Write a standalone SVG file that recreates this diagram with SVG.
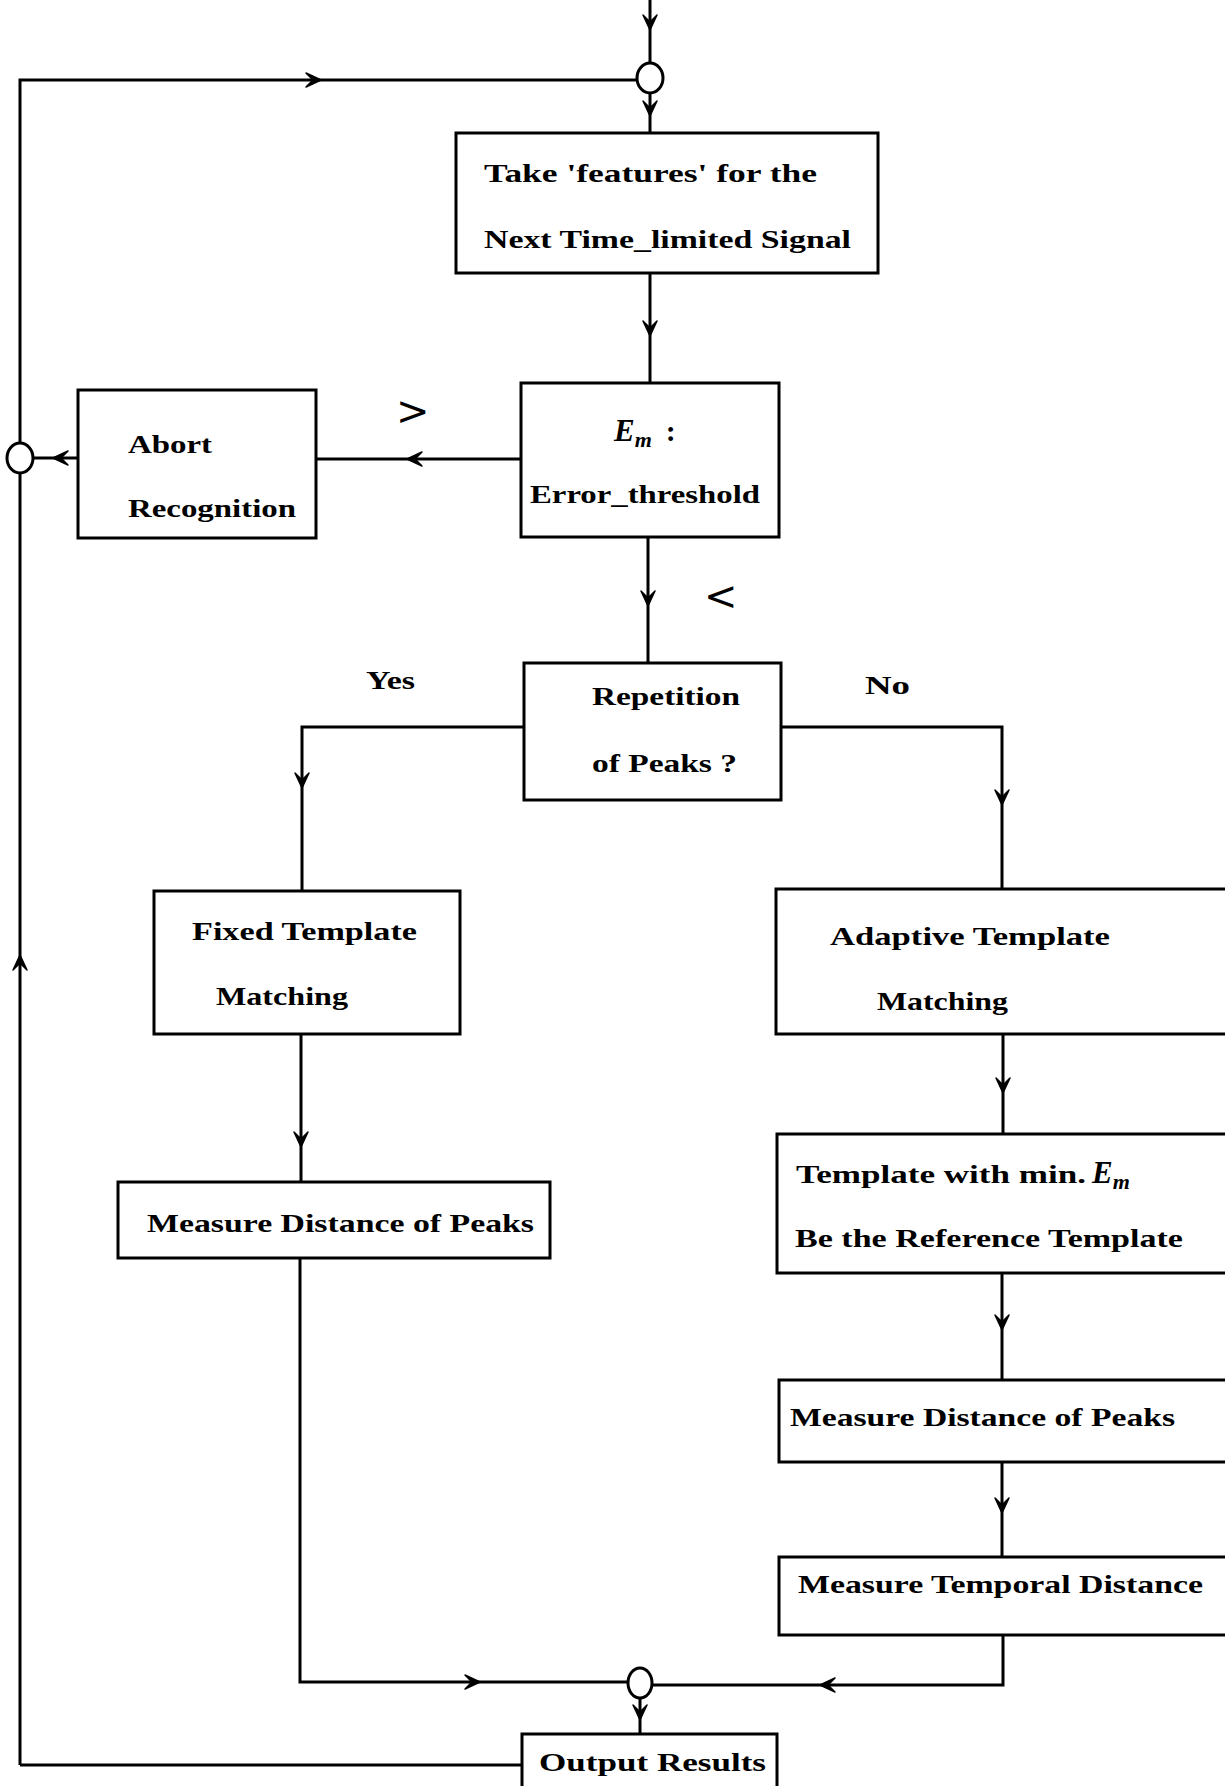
<svg xmlns="http://www.w3.org/2000/svg" xmlns:xlink="http://www.w3.org/1999/xlink" width="1225" height="1786" viewBox="0 0 1225 1786">
<style>
.box{fill:#fff;stroke:#000;stroke-width:3}
.ln{fill:none;stroke:#000;stroke-width:3;stroke-linejoin:miter}
.jn{fill:#fff;stroke:#000;stroke-width:3}
.t{font-family:"Liberation Serif","DejaVu Serif",serif;font-weight:bold;font-size:26px;fill:#000}
.s{font-family:"DejaVu Sans","Liberation Sans",sans-serif;font-size:40px;fill:#000}
</style>
<defs>
<path id="ah" d="M-7,-15 L0,0 L7,-15 L0,-8 Z" fill="#000" stroke="#000" stroke-width="1.5" stroke-linejoin="round"/>
</defs>
<rect width="1225" height="1786" fill="#fff"/>
<g id="connectors">
<path class="ln" d="M650,0 V63"/>
<path class="ln" d="M650,92 V133"/>
<path class="ln" d="M20,1765 V80 H637"/>
<path class="ln" d="M650,273 V383"/>
<path class="ln" d="M521,459 H317"/>
<path class="ln" d="M78,458 H33"/>
<path class="ln" d="M648,537 V663"/>
<path class="ln" d="M524,727 H302 V891"/>
<path class="ln" d="M781,727 H1002 V889"/>
<path class="ln" d="M301,1034 V1182"/>
<path class="ln" d="M1003,1034 V1134"/>
<path class="ln" d="M1002,1273 V1380"/>
<path class="ln" d="M1002,1462 V1557"/>
<path class="ln" d="M300,1258 V1682 H628"/>
<path class="ln" d="M1003,1635 V1685 H652"/>
<path class="ln" d="M640,1697 V1734"/>
<path class="ln" d="M522,1765 H20"/>
<use xlink:href="#ah" transform="translate(650,30)"/>
<use xlink:href="#ah" transform="translate(650,116)"/>
<use xlink:href="#ah" transform="translate(321,80) rotate(-90)"/>
<use xlink:href="#ah" transform="translate(650,336)"/>
<use xlink:href="#ah" transform="translate(407,459) rotate(90)"/>
<use xlink:href="#ah" transform="translate(53,458) rotate(90)"/>
<use xlink:href="#ah" transform="translate(648,606)"/>
<use xlink:href="#ah" transform="translate(302,788)"/>
<use xlink:href="#ah" transform="translate(1002,805)"/>
<use xlink:href="#ah" transform="translate(301,1147)"/>
<use xlink:href="#ah" transform="translate(1003,1093)"/>
<use xlink:href="#ah" transform="translate(1002,1330)"/>
<use xlink:href="#ah" transform="translate(1002,1513)"/>
<use xlink:href="#ah" transform="translate(480,1682) rotate(-90)"/>
<use xlink:href="#ah" transform="translate(820,1685) rotate(90)"/>
<use xlink:href="#ah" transform="translate(640,1720)"/>
<use xlink:href="#ah" transform="translate(20,955) rotate(180)"/>
</g>
<g id="junction-top"><ellipse class="jn" cx="650" cy="78" rx="13" ry="15"/></g>
<g id="junction-left"><ellipse class="jn" cx="20" cy="458" rx="13" ry="15"/></g>
<g id="junction-bottom"><ellipse class="jn" cx="640" cy="1683" rx="12" ry="15"/></g>
<g id="take-features">
<rect class="box" x="456" y="133" width="422" height="140"/>
<text class="t" x="484" y="182" textLength="333" lengthAdjust="spacingAndGlyphs">Take  'features' for the</text>
<text class="t" x="484" y="248" textLength="367" lengthAdjust="spacingAndGlyphs">Next Time_limited Signal</text>
</g>
<g id="error-threshold">
<rect class="box" x="521" y="383" width="258" height="154"/>
<text class="t" x="614" y="441"><tspan font-style="italic" font-size="31">E</tspan><tspan font-style="italic" font-size="22" dy="6">m</tspan><tspan dy="-6" dx="14" font-size="30">:</tspan></text>
<text class="t" x="530" y="503" textLength="230" lengthAdjust="spacingAndGlyphs">Error_threshold</text>
</g>
<g id="abort-recognition">
<rect class="box" x="78" y="390" width="238" height="148"/>
<text class="t" x="128" y="453" textLength="84" lengthAdjust="spacingAndGlyphs">Abort</text>
<text class="t" x="128" y="517" textLength="168" lengthAdjust="spacingAndGlyphs">Recognition</text>
</g>
<g id="label-gt"><text class="s" x="396" y="425">&gt;</text></g>
<g id="label-lt"><text class="s" x="704" y="610">&lt;</text></g>
<g id="repetition">
<rect class="box" x="524" y="663" width="257" height="137"/>
<text class="t" x="592" y="705" textLength="148" lengthAdjust="spacingAndGlyphs">Repetition</text>
<text class="t" x="592" y="772" textLength="145" lengthAdjust="spacingAndGlyphs">of Peaks ?</text>
</g>
<g id="label-yes"><text class="t" x="366" y="689" font-weight="normal" font-size="28" textLength="49" lengthAdjust="spacingAndGlyphs">Yes</text></g>
<g id="label-no"><text class="t" x="865" y="694" font-weight="normal" font-size="28" textLength="45" lengthAdjust="spacingAndGlyphs">No</text></g>
<g id="fixed-template">
<rect class="box" x="154" y="891" width="306" height="143"/>
<text class="t" x="192" y="940" textLength="225" lengthAdjust="spacingAndGlyphs">Fixed Template</text>
<text class="t" x="216" y="1005" textLength="132" lengthAdjust="spacingAndGlyphs">Matching</text>
</g>
<g id="adaptive-template">
<rect class="box" x="776" y="889" width="460" height="145"/>
<text class="t" x="830" y="945" textLength="280" lengthAdjust="spacingAndGlyphs">Adaptive Template</text>
<text class="t" x="877" y="1010" textLength="131" lengthAdjust="spacingAndGlyphs">Matching</text>
</g>
<g id="measure-left">
<rect class="box" x="118" y="1182" width="432" height="76"/>
<text class="t" x="147" y="1232" textLength="387" lengthAdjust="spacingAndGlyphs">Measure Distance of Peaks</text>
</g>
<g id="template-min">
<rect class="box" x="777" y="1134" width="460" height="139"/>
<text class="t" x="796" y="1183"><tspan textLength="290" lengthAdjust="spacingAndGlyphs">Template with min.</tspan><tspan font-style="italic" font-size="31" dx="6">E</tspan><tspan font-style="italic" font-size="22" dy="6">m</tspan></text>
<text class="t" x="795" y="1247" textLength="388" lengthAdjust="spacingAndGlyphs">Be the Reference Template</text>
</g>
<g id="measure-right">
<rect class="box" x="779" y="1380" width="458" height="82"/>
<text class="t" x="790" y="1426" textLength="385" lengthAdjust="spacingAndGlyphs">Measure Distance of Peaks</text>
</g>
<g id="measure-temporal">
<rect class="box" x="779" y="1557" width="458" height="78"/>
<text class="t" x="798" y="1593" textLength="405" lengthAdjust="spacingAndGlyphs">Measure Temporal Distance</text>
</g>
<g id="output-results">
<rect class="box" x="522" y="1734" width="255" height="70"/>
<text class="t" x="539" y="1771" textLength="227" lengthAdjust="spacingAndGlyphs">Output Results</text>
</g>
</svg>
